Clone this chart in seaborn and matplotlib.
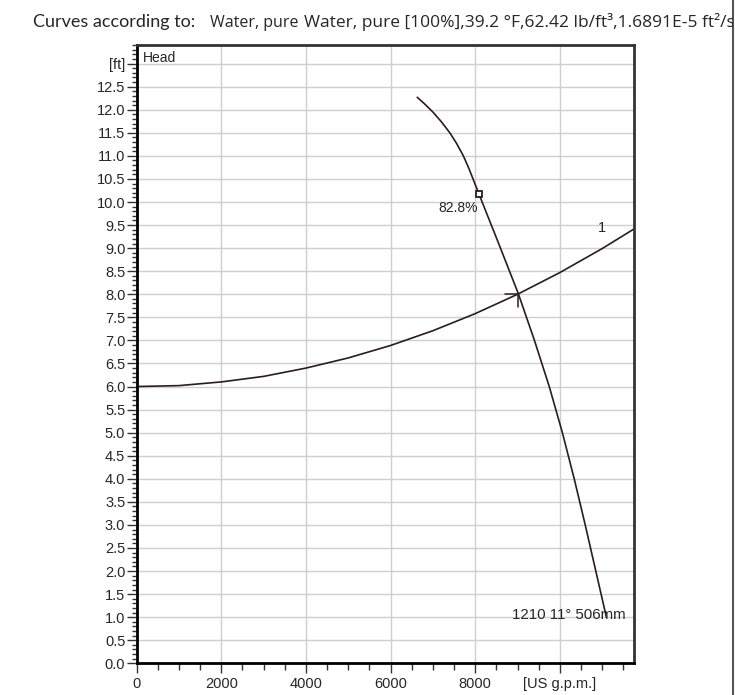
import numpy as np
import pandas as pd
import matplotlib
matplotlib.use("Agg")
import matplotlib.pyplot as plt
from matplotlib.ticker import MultipleLocator
from matplotlib.patches import Rectangle
import seaborn as sns

# system curve "1" (flow in US gpm, head in ft)
system_flow = [0, 1000, 2000, 3000, 4000, 5000, 6000, 7000, 8000, 9000, 10000, 11000, 11760]
system_head = [6.0, 6.02, 6.1, 6.22, 6.4, 6.62, 6.89, 7.21, 7.58, 8.0, 8.47, 8.99, 9.42]

# pump curve 1210 11° 506mm
pump_flow = [6630, 6800, 7010, 7200, 7400, 7560, 7720, 7850, 7970, 8090, 8550, 9020,
             9400, 9750, 10060, 10340, 10600, 10850, 11100]
pump_head = [12.27, 12.13, 11.94, 11.74, 11.50, 11.27, 11.0, 10.73, 10.45, 10.17, 9.11, 8.01,
             7.0, 6.0, 5.0, 4.0, 3.0, 2.0, 1.0]

# best efficiency point and duty point
bep_flow, bep_head, bep_label = 8090, 10.17, "82.8%"
duty_flow, duty_head = 9020, 8.01

x_ticks = [0, 2000, 4000, 6000, 8000, 10000]
x_labels = ["0", "2000", "4000", "6000", "8000", "[US g.p.m.]"]
y_ticks = [i * 0.5 for i in range(27)]
y_labels = [f"{v:.1f}" for v in y_ticks[:-1]] + ["[ft]"]

title_left = "Curves according to:"
title_fluid = "Water, pure"
title_props = "Water, pure [100%],39.2 °F,62.42 lb/ft³,1.6891E-5 ft²/s"

sns.set_style("white")
plt.rcParams["font.family"] = ["Liberation Sans", "DejaVu Sans"]

fig = plt.figure(figsize=(7.35, 6.95), dpi=100)
ax = fig.add_axes([0.186, 0.0456, 0.677, 0.8894])

line_col = "#2b1c1e"
sys_df = pd.DataFrame({"flow": system_flow, "head": system_head})
pump_df = pd.DataFrame({"flow": pump_flow, "head": pump_head})
sns.lineplot(data=sys_df, x="flow", y="head", ax=ax, color=line_col, lw=1.2, sort=False)
sns.lineplot(data=pump_df, x="flow", y="head", ax=ax, color=line_col, lw=1.2, sort=False)

# BEP marker
ax.plot([bep_flow], [bep_head], marker="s", ms=4.5, mfc="white", mec=line_col, mew=1.3)
ax.text(bep_flow - 20, bep_head - 0.15, bep_label, ha="right", va="top", fontsize=10)

# duty point: short ticks to the left and down
ax.plot([duty_flow - 310, duty_flow], [duty_head, duty_head], color=line_col, lw=1.1)
ax.plot([duty_flow, duty_flow], [duty_head, duty_head - 0.28], color=line_col, lw=1.1)

ax.text(11000, 9.44, "1", ha="center", va="center", fontsize=10.5)
ax.text(11560, 1.05, "1210 11° 506mm", ha="right", va="center", fontsize=10.8)
ax.text(0.013, 0.99, "Head", transform=ax.transAxes, ha="left", va="top", fontsize=10)

ax.set_xlim(0, 11760)
ax.set_ylim(0, 13.4)
ax.set_xticks(x_ticks, x_labels)
ax.set_yticks(y_ticks, y_labels)
ax.xaxis.set_minor_locator(MultipleLocator(500))
ax.yaxis.set_minor_locator(MultipleLocator(0.1))
ax.tick_params(axis="both", which="major", direction="out", length=7.2, width=1,
               color="#333333", labelsize=10.5, pad=1)
ax.tick_params(axis="x", which="major", pad=2.5)
ax.tick_params(axis="both", which="minor", direction="out", length=3.6, width=1, color="#333333")
ax.tick_params(axis="x", which="minor", length=5)
ax.tick_params(axis="both", which="both", bottom=True, left=True)
ax.set_xlabel("")
ax.set_ylabel("")

ax.grid(True, which="major", color="#cfcfcf", lw=1)
for s in ["left", "bottom"]:
    ax.spines[s].set_color("black")
    ax.spines[s].set_linewidth(2)
for s in ["top", "right"]:
    ax.spines[s].set_color("#333333")
    ax.spines[s].set_linewidth(2)

# header
fig.text(33 / 735, 1 - 22 / 695, title_left, fontsize=13, family=["Lato", "DejaVu Sans"],
         ha="left", va="center")
fig.text(210 / 735, 1 - 23 / 695, title_fluid, fontsize=11.5, family=["Open Sans", "DejaVu Sans"],
         ha="left", va="center")
props = fig.text(304 / 735, 1 - 22 / 695, title_props, fontsize=12.5,
                 family=["Open Sans", "DejaVu Sans"], ha="left", va="center")
# text is cut off at the page edge line
clip = Rectangle((0, 0), 733 / 735, 1, transform=fig.transFigure, visible=False)
fig.add_artist(clip)
props.set_clip_path(clip)
props.set_clip_on(True)

# page edge line at the right
fig.add_artist(plt.Line2D([733 / 735, 733 / 735], [0, 1], transform=fig.transFigure,
                          color="#555555", lw=1.5))

fig.savefig("out.png", dpi=100)
